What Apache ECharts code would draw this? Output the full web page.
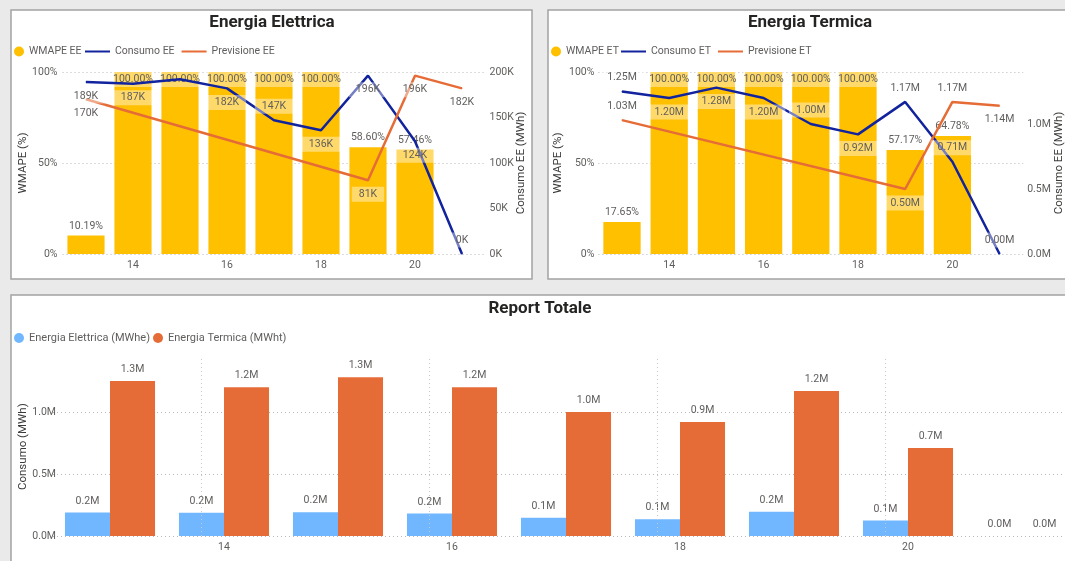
<!DOCTYPE html>
<html>
<head>
<meta charset="utf-8">
<script src="https://cdn.jsdelivr.net/npm/echarts@6/dist/echarts.min.js"></script>
<style>
  html, body { margin: 0; padding: 0; background: #EAEAEA; overflow: hidden; }
  #main { width: 1100px; height: 561px; }
</style>
</head>
<body>
<div id="main"></div>
<script>
// Weeks shown on every chart
const categories = ['13', '14', '15', '16', '17', '18', '19', '20', '21'];

// Energia Elettrica
const wmapeEE = [10.19, 100, 100, 100, 100, 100, 58.60, 57.46, null];
const consumoEE = [189000, 187000, 192000, 182000, 147000, 136000, 196000, 124000, 0];
const previsioneEE = [170000, null, null, null, null, null, 81000, 196000, 182000];

// Energia Termica
const wmapeET = [17.65, 100, 100, 100, 100, 100, 57.17, 64.78, null];
const consumoET = [1250000, 1200000, 1280000, 1200000, 1000000, 920000, 1170000, 710000, 0];
const previsioneET = [1030000, null, null, null, null, null, 500000, 1170000, 1140000];

// Where each point label sits relative to its point (null = hidden)
const posConsumoEE = ['bottom', 'bottom', null, 'bottom', 'top', 'bottom', 'bottom', 'bottom', 'top'];
const posPrevisioneEE = ['bottom', null, null, null, null, null, 'bottom', 'bottom', 'bottom'];
const posConsumoET = ['top', 'bottom', 'bottom', 'bottom', 'top', 'bottom', 'top', 'top', 'top'];
const posPrevisioneET = ['top', null, null, null, null, null, 'bottom', 'top', 'bottom'];

const FONT = 'Roboto, "Segoe UI", sans-serif';
const TXT = '#605E5C';
const NAME = '#3B3A39';
const YELLOW = '#FFC000';
const NAVY = '#12239E';
const ORANGE = '#E66C37';
const SKY = '#71B7FF';

const dotted = { type: [1, 3], color: '#B8B8B8', width: 1 };
const labelBg = 'rgba(255,255,255,0.42)';

const fmtK = v => Math.round(v / 1000) + 'K';
const fmtM2 = v => (v / 1e6).toFixed(2) + 'M';
const fmtM1 = v => (v / 1e6).toFixed(1) + 'M';
const fmtPct = v => v.toFixed(2) + '%';

function catAxis(gridIndex) {
  return {
    type: 'category', gridIndex, data: categories,
    axisLine: { show: false }, axisTick: { show: false },
    axisLabel: { interval: (i) => i % 2 === 1, color: TXT, fontSize: 10.5, fontFamily: FONT, margin: 6 }
  };
}

function valueAxis(gridIndex, opts) {
  return Object.assign({
    type: 'value', gridIndex, min: 0,
    nameLocation: 'middle', nameRotate: 90, nameMoveOverlap: false,
    nameTextStyle: { color: NAME, fontSize: 11.5, fontFamily: FONT },
    axisLine: { show: false }, axisTick: { show: false },
    splitLine: { show: false }
  }, opts);
}

function wmapeData(values) {
  return values.map(v => v == null ? null : (v >= 100
    ? { value: v, label: { position: 'insideTop', distance: 0, backgroundColor: labelBg, padding: [2, 1] } }
    : { value: v }));
}

function pointData(values, positions) {
  return values.map((v, i) => v == null ? null : {
    value: v,
    label: positions[i] ? { show: true, position: positions[i] } : { show: false }
  });
}

function wmapeSeries(name, xi, yi, values) {
  return {
    type: 'bar', name, xAxisIndex: xi, yAxisIndex: yi,
    data: wmapeData(values), barCategoryGap: '21%',
    itemStyle: { color: YELLOW },
    label: { show: true, position: 'top', distance: 4, formatter: p => fmtPct(p.value),
             color: TXT, fontSize: 10.5, fontFamily: FONT }
  };
}

function lineSeries(name, xi, yi, values, positions, color, fmt) {
  return {
    type: 'line', name, xAxisIndex: xi, yAxisIndex: yi,
    data: pointData(values, positions), connectNulls: true,
    symbol: 'circle', symbolSize: 1, showAllSymbol: true,
    lineStyle: { width: 2.5, color }, itemStyle: { color },
    label: { show: true, formatter: p => fmt(p.value), color: TXT, fontSize: 10.5, fontFamily: FONT,
             backgroundColor: labelBg, padding: [2, 7], distance: 6 },
    z: 3
  };
}

function totalSeries(name, values, color, extra) {
  return Object.assign({
    type: 'bar', name, xAxisIndex: 2, yAxisIndex: 4, data: values,
    barGap: 0, barCategoryGap: '21%',
    itemStyle: { color },
    label: { show: true, position: 'top', distance: 6, formatter: p => fmtM1(p.value),
             color: TXT, fontSize: 10.5, fontFamily: FONT }
  }, extra || {});
}

function circleLegend(names, left, top, size, gap) {
  return { data: names.map(n => ({ name: n, icon: 'circle' })), left, top, padding: 0,
           itemWidth: 10, itemHeight: 10, itemGap: gap,
           textStyle: { color: TXT, fontSize: size, fontFamily: FONT } };
}
function lineLegend(names, left, top) {
  return { data: names, icon: 'rect', left, top, padding: 0,
           itemWidth: 25, itemHeight: 2, itemGap: 7,
           textStyle: { color: TXT, fontSize: 10.5, fontFamily: FONT } };
}

function panel(x, y, w, h) {
  return { type: 'rect', silent: true, z: -10,
           shape: { x, y, width: w, height: h },
           style: { fill: '#FFFFFF', stroke: '#A3A3A3', lineWidth: 1.5 } };
}
function heading(text, x, y) {
  return { type: 'text', silent: true, x, y,
           style: { text, fill: '#252423', font: 'bold 17px Roboto, sans-serif',
                    align: 'center', verticalAlign: 'middle', textAlign: 'center', textVerticalAlign: 'middle' } };
}

const chart = echarts.init(document.getElementById('main'), null, { renderer: 'canvas' });

chart.setOption({
  backgroundColor: '#EAEAEA',
  animation: false,
  graphic: [
    panel(11, 10, 521, 269),
    panel(548, 10, 560, 269),
    panel(11, 295, 1097, 290),
    heading('Energia Elettrica', 272, 23),
    heading('Energia Termica', 810, 23),
    heading('Report Totale', 540, 309)
  ],
  legend: [
    circleLegend(['WMAPE EE'], 14, 46, 10.5, 6),
    lineLegend(['Consumo EE', 'Previsione EE'], 85, 46),
    circleLegend(['WMAPE ET'], 551, 46, 10.5, 6),
    lineLegend(['Consumo ET', 'Previsione ET'], 621, 46),
    circleLegend(['Energia Elettrica (MWhe)', 'Energia Termica (MWht)'], 14, 332.5, 11, 3)
  ],
  grid: [
    { left: 62.5, top: 72, width: 423, height: 182 },
    { left: 598.4, top: 72, width: 424.8, height: 182 },
    { left: 53, top: 357.4, width: 1026, height: 178.6 }
  ],
  xAxis: [catAxis(0), catAxis(1), catAxis(2)],
  yAxis: [
    valueAxis(0, { max: 100, interval: 50, name: 'WMAPE (%)', nameGap: 33,
      splitLine: { show: true, lineStyle: dotted },
      axisLabel: { formatter: '{value}%', color: TXT, fontSize: 10.5, fontFamily: FONT, margin: 5 } }),
    valueAxis(0, { position: 'right', max: 200000, interval: 50000, name: 'Consumo EE (MWh)', nameGap: 30,
      axisLabel: { formatter: v => fmtK(v), color: TXT, fontSize: 10.5, fontFamily: FONT, margin: 4 } }),
    valueAxis(1, { max: 100, interval: 50, name: 'WMAPE (%)', nameGap: 34,
      splitLine: { show: true, lineStyle: dotted },
      axisLabel: { formatter: '{value}%', color: TXT, fontSize: 10.5, fontFamily: FONT, margin: 4 } }),
    valueAxis(1, { position: 'right', max: 1400000, interval: 500000, name: 'Consumo EE (MWh)', nameGap: 30,
      axisLabel: { formatter: v => (v % 500000 === 0 ? fmtM1(v) : ''), color: TXT, fontSize: 10.5, fontFamily: FONT, margin: 4 } }),
    valueAxis(2, { max: 1440000, interval: 500000, name: 'Consumo (MWh)', nameGap: 24,
      splitLine: { show: true, lineStyle: dotted, showMaxLine: false },
      axisLabel: { formatter: v => (v % 500000 === 0 ? fmtM1(v) : ''), color: TXT, fontSize: 10.5, fontFamily: FONT, margin: -3 } })
  ],
  series: [
    wmapeSeries('WMAPE EE', 0, 0, wmapeEE),
    lineSeries('Consumo EE', 0, 1, consumoEE, posConsumoEE, NAVY, fmtK),
    lineSeries('Previsione EE', 0, 1, previsioneEE, posPrevisioneEE, ORANGE, fmtK),

    wmapeSeries('WMAPE ET', 1, 2, wmapeET),
    lineSeries('Consumo ET', 1, 3, consumoET, posConsumoET, NAVY, fmtM2),
    lineSeries('Previsione ET', 1, 3, previsioneET, posPrevisioneET, ORANGE, fmtM2),

    totalSeries('Energia Elettrica (MWhe)', consumoEE, SKY, {
      markLine: {
        silent: true, symbol: 'none', label: { show: false },
        lineStyle: { type: [1, 3], color: '#C8C8C8', width: 1 },
        data: categories.filter((c, i) => i % 2 === 1).map(c => ({ xAxis: c }))
      }
    }),
    totalSeries('Energia Termica (MWht)', consumoET, ORANGE)
  ]
});
</script>
</body>
</html>
